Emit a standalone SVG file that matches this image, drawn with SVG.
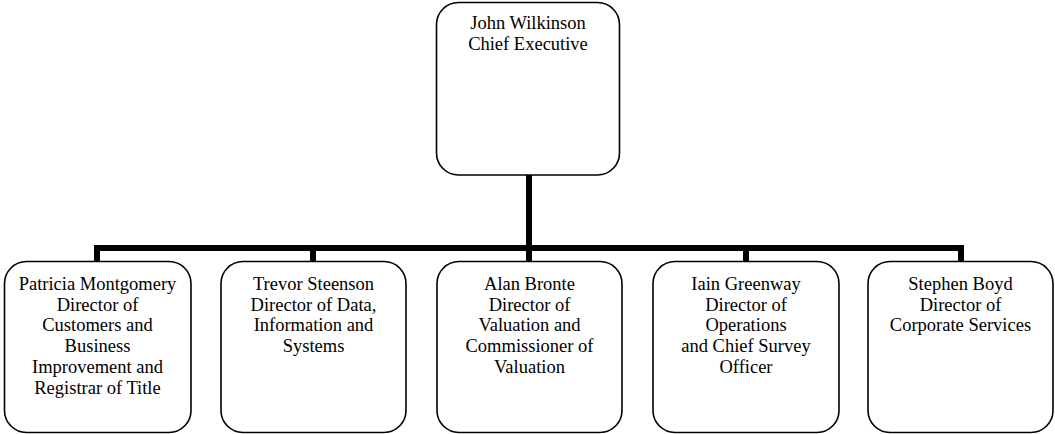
<svg xmlns="http://www.w3.org/2000/svg" width="1055" height="434" viewBox="0 0 1055 434">
<style>
.box{fill:#fff;stroke:#000;stroke-width:1.6}
.t{font-family:"Liberation Serif","Times New Roman",serif;font-size:18.5px;fill:#000;text-anchor:middle}
.c{fill:none;stroke:#000;stroke-width:6;stroke-linecap:butt;stroke-linejoin:miter}
</style>
<rect width="1055" height="434" fill="#fff"/>
<g id="connectors">
<path class="c" d="M529 175V248"/>
<path class="c" d="M97 262V248H961V262"/>
<path class="c" d="M313 248V262"/>
<path class="c" d="M529 248V262"/>
<path class="c" d="M746 248V262"/>
</g>
<g id="n0">
<rect class="box" x="436.5" y="2.5" width="183" height="172.5" rx="22" ry="22"/>
<text class="t" x="528" y="29">John Wilkinson</text>
<text class="t" x="528" y="50">Chief Executive</text>
</g>
<g id="n1">
<rect class="box" x="4.5" y="261.5" width="186.5" height="171" rx="22" ry="22"/>
<text class="t" x="97.5" y="290">Patricia Montgomery</text>
<text class="t" x="97.5" y="310.7">Director of</text>
<text class="t" x="97.5" y="331.4">Customers and</text>
<text class="t" x="97.5" y="352.1">Business</text>
<text class="t" x="97.5" y="372.8">Improvement and</text>
<text class="t" x="97.5" y="393.5">Registrar of Title</text>
</g>
<g id="n2">
<rect class="box" x="221" y="261.5" width="185" height="171" rx="22" ry="22"/>
<text class="t" x="313.5" y="290">Trevor Steenson</text>
<text class="t" x="313.5" y="310.7">Director of Data,</text>
<text class="t" x="313.5" y="331.4">Information and</text>
<text class="t" x="313.5" y="352.1">Systems</text>
</g>
<g id="n3">
<rect class="box" x="437" y="261.5" width="185" height="171" rx="22" ry="22"/>
<text class="t" x="529.5" y="290">Alan Bronte</text>
<text class="t" x="529.5" y="310.7">Director of</text>
<text class="t" x="529.5" y="331.4">Valuation and</text>
<text class="t" x="529.5" y="352.1">Commissioner of</text>
<text class="t" x="529.5" y="372.8">Valuation</text>
</g>
<g id="n4">
<rect class="box" x="653" y="261.5" width="186" height="171" rx="22" ry="22"/>
<text class="t" x="746" y="290">Iain Greenway</text>
<text class="t" x="746" y="310.7">Director of</text>
<text class="t" x="746" y="331.4">Operations</text>
<text class="t" x="746" y="352.1">and Chief Survey</text>
<text class="t" x="746" y="372.8">Officer</text>
</g>
<g id="n5">
<rect class="box" x="868" y="261.5" width="185" height="171" rx="22" ry="22"/>
<text class="t" x="960.5" y="290">Stephen Boyd</text>
<text class="t" x="960.5" y="310.7">Director of</text>
<text class="t" x="960.5" y="331.4">Corporate Services</text>
</g>
</svg>
